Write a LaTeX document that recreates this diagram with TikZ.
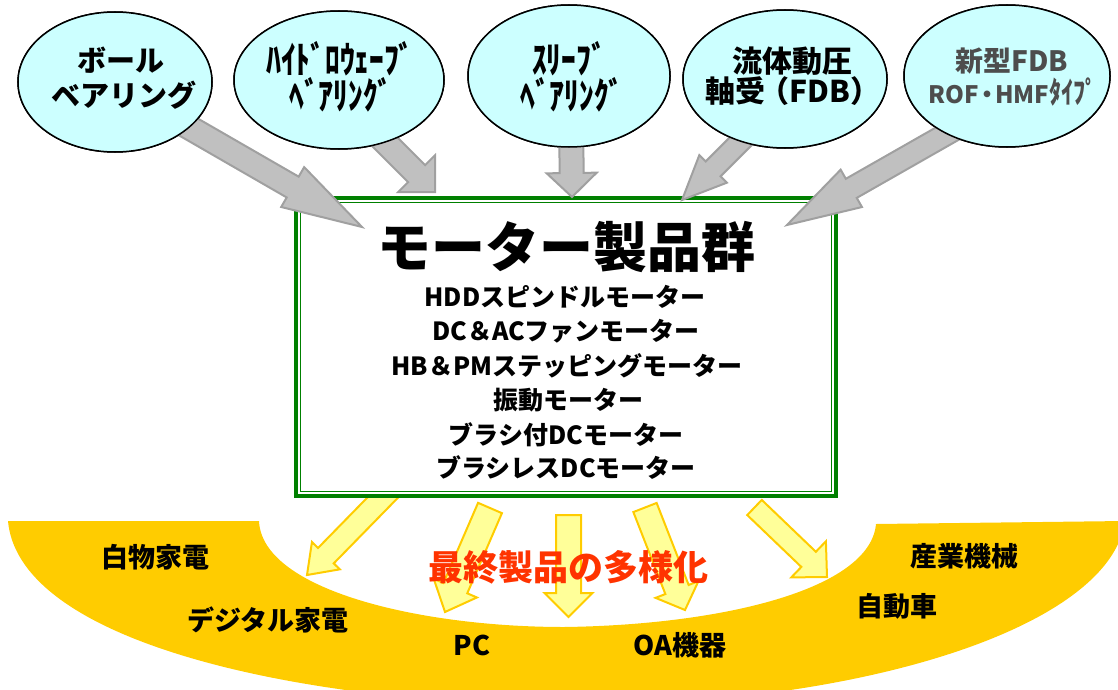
\documentclass[tikz,border=0pt]{standalone}
\usepackage{fontspec}
\setmainfont{Noto Sans CJK JP}
\usetikzlibrary{shapes.geometric,calc}
\definecolor{ellfill}{HTML}{CCFFFF}
\definecolor{garrowfill}{HTML}{C0C0C0}
\definecolor{garrowline}{HTML}{A0A0A0}
\definecolor{yarrowfill}{HTML}{FFFF99}
\definecolor{yarrowline}{HTML}{FFCC00}
\definecolor{cresc}{HTML}{FFCC00}
\definecolor{boxgreen}{HTML}{008000}
\definecolor{redtext}{HTML}{FF3300}
\definecolor{graytext}{HTML}{4D4D4D}
% #1 style, #2 tail coordinate, #3 tip coordinate, #4 shaft half width, #5 head half width, #6 head length
\newcommand\blockarrow[6]{%
  \coordinate (ba-h) at ($(#3)!#6!(#2)$);
  \draw[#1] ($(#2)!#4!90:(#3)$) -- ($(ba-h)!#4!-90:(#2)$) -- ($(ba-h)!#5!-90:(#2)$) -- (#3)
    -- ($(ba-h)!#5!90:(#2)$) -- ($(ba-h)!#4!90:(#2)$) -- ($(#2)!#4!-90:(#3)$) -- cycle;}
\newcommand\tallhw[1]{\scalebox{0.95}[1.2]{#1}}
\tikzset{
  bearing/.style={ellipse, draw=black, line width=1.5pt, fill=ellfill, inner sep=0pt},
  etext/.style={font=\bfseries\fontsize{29}{34}\selectfont, inner sep=0pt},
  hwtext/.style={font=\bfseries\fontsize{31}{34}\selectfont, inner sep=0pt, text height=24pt, text depth=2pt},
  grayarrow/.style={fill=garrowfill, draw=garrowline, line width=2pt, line join=miter},
  yellowarrow/.style={fill=yarrowfill, draw=yarrowline, line width=2pt, line join=miter},
  titletext/.style={font=\bfseries\fontsize{54}{60}\selectfont, inner sep=0pt},
  motor/.style={font=\bfseries\fontsize{25}{30}\selectfont, inner sep=0pt},
  app/.style={font=\bfseries\fontsize{27}{30}\selectfont, inner sep=0pt},
  redlabel/.style={font=\bfseries\fontsize{35}{40}\selectfont, text=redtext, inner sep=0pt},
}
\begin{document}
\begin{tikzpicture}[x=1pt,y=-1pt]
\useasboundingbox (0,0) rectangle (1118,690);
% crescent of final products
\begin{scope}
\clip (0,0) rectangle (1118,690);
\fill[cresc] (8,521) .. controls (20,650) and (330,705) .. (564,705)
  .. controls (850,708) and (1110,630) .. (1125,521) -- (876,524)
  .. controls (870,590) and (720,625) .. (564,627)
  .. controls (420,627) and (262,590) .. (259,521) -- cycle;
\end{scope}
% yellow arrows
\coordinate (y1s) at (395,485);   \coordinate (y1t) at (307,575);
\coordinate (y2s) at (490,508);   \coordinate (y2t) at (445,612);
\coordinate (y3s) at (568.5,515); \coordinate (y3t) at (568.5,617);
\coordinate (y4s) at (645,507.5); \coordinate (y4t) at (685,610);
\coordinate (y5s) at (754.5,507.5); \coordinate (y5t) at (827,577);
\blockarrow{yellowarrow}{y1s}{y1t}{11pt}{19.5pt}{27pt}
\blockarrow{yellowarrow}{y2s}{y2t}{13pt}{23.5pt}{26pt}
\blockarrow{yellowarrow}{y3s}{y3t}{12.5pt}{24pt}{24pt}
\blockarrow{yellowarrow}{y4s}{y4t}{12.5pt}{23pt}{22pt}
\blockarrow{yellowarrow}{y5s}{y5t}{10.5pt}{25pt}{25.5pt}
% motor box
\node[draw=boxgreen, line width=4pt, fill=white, minimum width=540pt, minimum height=298pt,
      inner sep=0pt, outer sep=0pt] (box) at (566,347) {};
\draw[boxgreen, line width=1pt] ($(box.north west)+(4.5,4.5)$) rectangle ($(box.south east)+(-4.5,-4.5)$);
% ellipses
\node[bearing, minimum width=194pt, minimum height=140pt] (e1) at (115,82) {};
\node[bearing, minimum width=210pt, minimum height=138pt] (e2) at (339,80) {};
\node[bearing, minimum width=202pt, minimum height=142pt] (e3) at (569,76) {};
\node[bearing, minimum width=204pt, minimum height=138pt] (e4) at (785,79) {};
\node[bearing, minimum width=206pt, minimum height=142pt] (e5) at (1007,76) {};
% gray arrows (drawn over box, under ellipses)
\coordinate (g1s) at (185,125); \coordinate (g1t) at (362,227);
\coordinate (g2s) at (375,132); \coordinate (g2t) at (435,192);
\coordinate (g3s) at (571,120); \coordinate (g3t) at (572,197);
\coordinate (g4s) at (757,125); \coordinate (g4t) at (682,200);
\coordinate (g5s) at (987,111); \coordinate (g5t) at (787,225);
\blockarrow{grayarrow}{g1s}{g1t}{12pt}{23pt}{80pt}
\blockarrow{grayarrow}{g2s}{g2t}{12pt}{26pt}{26pt}
\blockarrow{grayarrow}{g3s}{g3t}{12pt}{25pt}{24pt}
\blockarrow{grayarrow}{g4s}{g4t}{10.5pt}{19.5pt}{44pt}
\blockarrow{grayarrow}{g5s}{g5t}{11pt}{21.5pt}{74pt}
% redraw ellipses on top of arrow tails
\node[bearing, minimum width=194pt, minimum height=140pt] at (e1.center) {};
\node[bearing, minimum width=210pt, minimum height=138pt] at (e2.center) {};
\node[bearing, minimum width=202pt, minimum height=142pt] at (e3.center) {};
\node[bearing, minimum width=204pt, minimum height=138pt] at (e4.center) {};
\node[bearing, minimum width=206pt, minimum height=142pt] at (e5.center) {};
% ellipse texts
\node[etext] (e1a) at (121,60) {ボール};
\node[etext] (e1b) at (124,95) {ベアリング};
\node[hwtext] (e2a) at (340,63) {\tallhw{ﾊｲﾄﾞﾛｳｪｰﾌﾞ}};
\node[hwtext] (e2b) at (341,99) {\tallhw{ﾍﾞｱﾘﾝｸﾞ}};
\node[hwtext] (e3a) at (569,63) {\tallhw{ｽﾘｰﾌﾞ}};
\node[hwtext] (e3b) at (572,99) {\tallhw{ﾍﾞｱﾘﾝｸﾞ}};
\node[etext, font=\bfseries\fontsize{30}{34}\selectfont] (e4a) at (792,61) {流体動圧};
\node[etext, font=\bfseries\fontsize{30}{34}\selectfont] (e4b) at (790,91) {軸受\kern-6pt（FDB）\kern-6pt};
\node[etext, text=graytext, font=\bfseries\fontsize{28}{32}\selectfont] (e5a) at (1012,61) {新型FDB};
\node[etext, text=graytext, font=\bfseries\fontsize{24}{28}\selectfont] (e5b) at (1013,92) {ROF\kern-4pt・\kern-4pt HMF\scalebox{1}[1.25]{ﾀｲﾌﾟ}};
% box texts
\node[titletext] (title) at (566,247) {モーター製品群};
\node[motor] (m1) at (565,297) {HDDスピンドルモーター};
\node[motor] (m2) at (566,331) {DC＆ACファンモーター};
\node[motor] (m3) at (567,366) {HB＆PMステッピングモーター};
\node[motor] (m4) at (568,400) {振動モーター};
\node[motor] (m5) at (566,435) {ブラシ付DCモーター};
\node[motor] (m6) at (566,468) {ブラシレスDCモーター};
% product labels
\node[redlabel] (div) at (568,567) {最終製品の多様化};
\node[app] (p1) at (155,557) {白物家電};
\node[app] (p2) at (268,620) {デジタル家電};
\node[app] (p3) at (472,645) {PC};
\node[app] (p4) at (680,645) {OA機器};
\node[app] (p5) at (897,606) {自動車};
\node[app] (p6) at (964,556) {産業機械};
\end{tikzpicture}
\end{document}
